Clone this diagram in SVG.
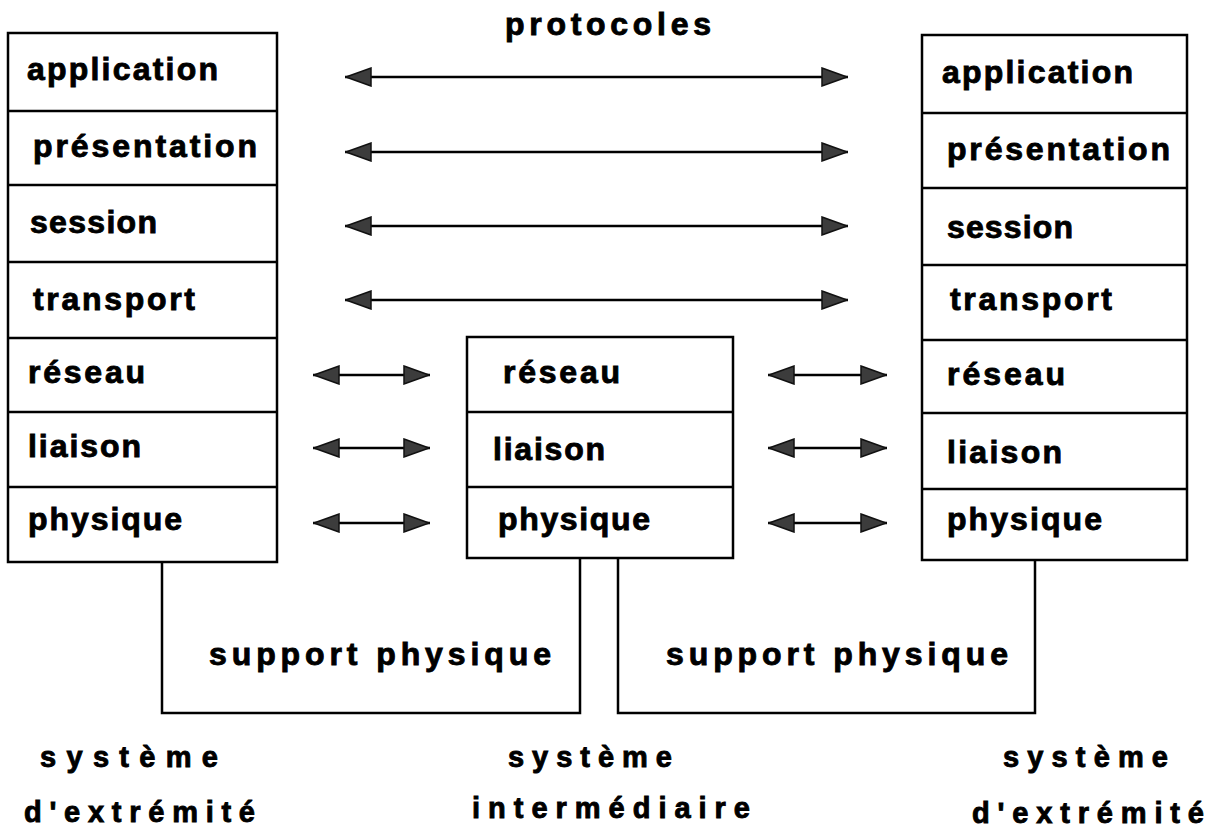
<svg xmlns="http://www.w3.org/2000/svg" width="1218" height="827" viewBox="0 0 1218 827">
<style>
.box{fill:#fff;stroke:#000;stroke-width:2.5}
.t{font-family:"Liberation Sans",Arial,sans-serif;font-weight:bold;font-size:32px;fill:#000;stroke:#000;stroke-width:0.9}
.b{font-family:"Liberation Sans",Arial,sans-serif;font-weight:bold;font-size:29px;fill:#000;stroke:#000;stroke-width:0.9}
.arr{stroke:#000;stroke-width:2.5;fill:none;marker-start:url(#ah);marker-end:url(#ah)}
.sup{stroke:#000;stroke-width:2.5;fill:none}
</style>
<defs>
<marker id="ah" viewBox="0 0 27 20" refX="27" refY="10" markerWidth="27" markerHeight="20" markerUnits="userSpaceOnUse" orient="auto-start-reverse">
<path d="M1,1 L26,10 L1,19 Z" fill="#3c3c3c" stroke="#111" stroke-width="1.5"/>
</marker>
</defs>
<rect width="1218" height="827" fill="#fff"/>

<text class="t" x="505" y="35" textLength="206" lengthAdjust="spacing">protocoles</text>

<g id="stack-left">
<rect class="box" x="8" y="33" width="269" height="529"/>
<g id="l-application"><line class="box" x1="8" y1="111" x2="277" y2="111"/><text class="t" x="27" y="80" textLength="191" lengthAdjust="spacing">application</text></g>
<g id="l-presentation"><line class="box" x1="8" y1="185" x2="277" y2="185"/><text class="t" x="33" y="157" textLength="224" lengthAdjust="spacing">présentation</text></g>
<g id="l-session"><line class="box" x1="8" y1="262" x2="277" y2="262"/><text class="t" x="30" y="233" textLength="127" lengthAdjust="spacing">session</text></g>
<g id="l-transport"><line class="box" x1="8" y1="338" x2="277" y2="338"/><text class="t" x="33" y="310" textLength="162" lengthAdjust="spacing">transport</text></g>
<g id="l-reseau"><line class="box" x1="8" y1="412" x2="277" y2="412"/><text class="t" x="28" y="383" textLength="117" lengthAdjust="spacing">réseau</text></g>
<g id="l-liaison"><line class="box" x1="8" y1="487" x2="277" y2="487"/><text class="t" x="28" y="457" textLength="113" lengthAdjust="spacing">liaison</text></g>
<g id="l-physique"><text class="t" x="28" y="530" textLength="154" lengthAdjust="spacing">physique</text></g>
</g>

<g id="stack-middle">
<rect class="box" x="467" y="337" width="266" height="221"/>
<g id="m-reseau"><line class="box" x1="467" y1="412" x2="733" y2="412"/><text class="t" x="503" y="383" textLength="117" lengthAdjust="spacing">réseau</text></g>
<g id="m-liaison"><line class="box" x1="467" y1="487" x2="733" y2="487"/><text class="t" x="493" y="460" textLength="112" lengthAdjust="spacing">liaison</text></g>
<g id="m-physique"><text class="t" x="498" y="530" textLength="152" lengthAdjust="spacing">physique</text></g>
</g>

<g id="stack-right">
<rect class="box" x="922" y="35" width="265" height="525"/>
<g id="r-application"><line class="box" x1="922" y1="113" x2="1187" y2="113"/><text class="t" x="942" y="83" textLength="191" lengthAdjust="spacing">application</text></g>
<g id="r-presentation"><line class="box" x1="922" y1="188" x2="1187" y2="188"/><text class="t" x="947" y="160" textLength="223" lengthAdjust="spacing">présentation</text></g>
<g id="r-session"><line class="box" x1="922" y1="265" x2="1187" y2="265"/><text class="t" x="947" y="238" textLength="126" lengthAdjust="spacing">session</text></g>
<g id="r-transport"><line class="box" x1="922" y1="340" x2="1187" y2="340"/><text class="t" x="950" y="310" textLength="162" lengthAdjust="spacing">transport</text></g>
<g id="r-reseau"><line class="box" x1="922" y1="413" x2="1187" y2="413"/><text class="t" x="947" y="385" textLength="118" lengthAdjust="spacing">réseau</text></g>
<g id="r-liaison"><line class="box" x1="922" y1="489" x2="1187" y2="489"/><text class="t" x="947" y="463" textLength="115" lengthAdjust="spacing">liaison</text></g>
<g id="r-physique"><text class="t" x="947" y="530" textLength="155" lengthAdjust="spacing">physique</text></g>
</g>

<g id="support-left">
<path class="sup" d="M162,562 V713 H580 V558"/>
<text class="t" x="209" y="665" textLength="342" lengthAdjust="spacing">support  physique</text>
</g>
<g id="support-right">
<path class="sup" d="M618,558 V713 H1035 V560"/>
<text class="t" x="666" y="665" textLength="342" lengthAdjust="spacing">support  physique</text>
</g>

<g id="connectors">
<line class="arr" x1="345" y1="77" x2="848" y2="77"/>
<line class="arr" x1="345" y1="152" x2="848" y2="152"/>
<line class="arr" x1="345" y1="226" x2="848" y2="226"/>
<line class="arr" x1="345" y1="300" x2="848" y2="300"/>
<line class="arr" x1="313" y1="375" x2="430" y2="375"/>
<line class="arr" x1="313" y1="448" x2="430" y2="448"/>
<line class="arr" x1="313" y1="523" x2="430" y2="523"/>
<line class="arr" x1="768" y1="375" x2="887" y2="375"/>
<line class="arr" x1="768" y1="448" x2="887" y2="448"/>
<line class="arr" x1="768" y1="523" x2="887" y2="523"/>
</g>

<g id="label-left">
<text class="b" x="40" y="767" textLength="178" lengthAdjust="spacing">système</text>
<text class="b" x="24" y="822" textLength="231" lengthAdjust="spacing">d'extrémité</text>
</g>
<g id="label-middle">
<text class="b" x="508" y="767" textLength="164" lengthAdjust="spacing">système</text>
<text class="b" x="472" y="818" textLength="278" lengthAdjust="spacing">intermédiaire</text>
</g>
<g id="label-right">
<text class="b" x="1003" y="767" textLength="165" lengthAdjust="spacing">système</text>
<text class="b" x="972" y="823" textLength="232" lengthAdjust="spacing">d'extrémité</text>
</g>
</svg>
